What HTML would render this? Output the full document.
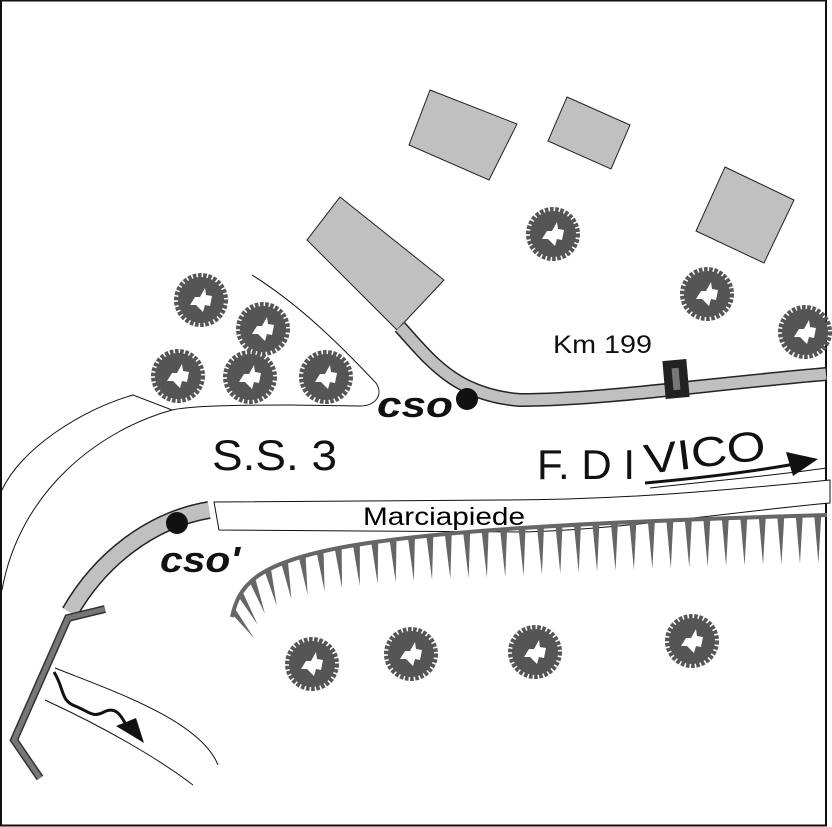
<!DOCTYPE html>
<html><head><meta charset="utf-8"><style>
html,body{margin:0;padding:0;background:#fff}
svg{display:block}
text{font-family:"Liberation Sans",sans-serif}
</style></head><body>
<svg id="s" width="832" height="827" viewBox="0 0 832 827" xmlns="http://www.w3.org/2000/svg">
<defs>
<g id="tree">
<circle r="23" fill="#555"/>
<circle r="24" fill="none" stroke="#555" stroke-width="6" stroke-dasharray="3.5 1.5"/>
<polygon points="-11,5 -6,-3 -1,-3 4,-12 5,-5 11,-4 9,6 4,5 2,12 -3,7 -5,5" fill="#fff"/>
</g>
</defs>
<rect x="1" y="0.5" width="825" height="825" fill="#fff" stroke="#111" stroke-width="2"/>

<g fill="#c0c0c0" stroke="#222" stroke-width="1">
<polygon points="430,90 517,124 489,180 409,145"/>
<polygon points="567,97 630,125 611,169 548,141"/>
<polygon points="725,167 794,200 764,263 696,231"/>
<polygon points="340,197 444,280 397,330 307,240"/>
</g>

<path d="M400,327 C430,360 455,395 520,400 C600,400 700,385 826,374" fill="none" stroke="#222" stroke-width="14"/>
<path d="M400,327 C430,360 455,395 520,400 C600,400 700,385 826,374" fill="none" stroke="#c0c0c0" stroke-width="11"/>
<rect x="-12" y="-19" width="24" height="38" fill="#222" transform="translate(676,379) rotate(-5)"/>
<rect x="-3.5" y="-11" width="7" height="22" fill="#777" transform="translate(676,379) rotate(-5)"/>

<g fill="none" stroke="#111" stroke-width="1">
<path d="M252,275 C300,305 340,345 376,383 C384,395 375,406 360,406 L290,405 C230,405 190,406 172,410 L133,395 C80,410 20,450 2,490"/>
<path d="M172,410 C100,430 20,490 2,590"/>
<path d="M55,668 C110,690 200,720 218,765"/>
<path d="M45,700 C110,730 160,760 193,785"/>
<path d="M650,488 C720,480 780,475 826,468"/>
</g>

<path d="M209,510 C150,520 100,560 70,612" fill="none" stroke="#222" stroke-width="18"/>
<path d="M209,510 C150,520 100,560 70,612" fill="none" stroke="#c0c0c0" stroke-width="15"/>
<path d="M214,502 L500,500 C620,500 730,490 830,480 L830,503 C730,512 620,530 520,532 L219,530 Z" fill="#fff" stroke="#111" stroke-width="1"/>
<text x="363" y="525" font-size="25" textLength="162" lengthAdjust="spacingAndGlyphs">Marciapiede</text>

<path d="M105,609 L68,618 L14,740 L40,778" fill="none" stroke="#333" stroke-width="8"/>
<path d="M105,609 L68,618 L14,740 L40,778" fill="none" stroke="#777" stroke-width="5"/>
<path d="M54,672 C65,690 60,700 75,706 C90,712 92,718 104,712 C114,707 120,712 127,727" fill="none" stroke="#111" stroke-width="3"/>
<polygon points="116,726 136,718 144,743" fill="#111"/>

<g id="teeth" fill="#666"></g>
<path id="base" d="M232,617 C245,555 300,530 827,515" fill="none" stroke="#666" stroke-width="4"/>

<use href="#tree" x="201" y="300"/>
<use href="#tree" x="263" y="329"/>
<use href="#tree" x="178" y="376"/>
<use href="#tree" x="250" y="377"/>
<use href="#tree" x="326" y="377"/>
<use href="#tree" x="553" y="234"/>
<use href="#tree" x="707" y="294"/>
<use href="#tree" x="805" y="332"/>
<use href="#tree" x="312" y="664"/>
<use href="#tree" x="411" y="654"/>
<use href="#tree" x="535" y="652"/>
<use href="#tree" x="692" y="641"/>

<circle cx="467" cy="399" r="11" fill="#111"/>
<text x="377" y="417" font-size="36" font-weight="bold" font-style="italic" fill="#111" textLength="76" lengthAdjust="spacingAndGlyphs">cso</text>
<circle cx="177" cy="523" r="11" fill="#111"/>
<text x="160" y="572" font-size="36" font-weight="bold" font-style="italic" fill="#111" textLength="80" lengthAdjust="spacingAndGlyphs">cso'</text>
<text x="212" y="470" font-size="43" fill="#111" textLength="125" lengthAdjust="spacingAndGlyphs">S.S. 3</text>
<text x="553" y="353" font-size="25" fill="#111" textLength="99" lengthAdjust="spacingAndGlyphs">Km 199</text>
<text x="537" y="479" font-size="42" fill="#111">F. D I</text>
<text x="646" y="474" font-size="42" fill="#111" transform="rotate(-7 646 474)" textLength="122" lengthAdjust="spacingAndGlyphs">VICO</text>
<path d="M645,483 C700,478 750,472 795,464" fill="none" stroke="#111" stroke-width="3"/>
<polygon points="786,452 818,459 793,476" fill="#111"/>
</svg>
<script>
(function(){
var p=document.getElementById('base'),g=document.getElementById('teeth');
var L=p.getTotalLength(),s='';
for(var d=6;d<L-4;d+=18.5){
 var a=p.getPointAtLength(d-3.5),b=p.getPointAtLength(d+3.5),m=p.getPointAtLength(d);
 var tx=b.x-a.x,ty=b.y-a.y,tl=Math.hypot(tx,ty);tx/=tl;ty/=tl;
 var nx=-ty,ny=tx; if(ny<0){nx=-nx;ny=-ny;}
 var dx=nx*0.5,dy=ny*0.5+0.5,dl=Math.hypot(dx,dy);dx/=dl;dy/=dl;
 var len=34+14*Math.min(1,d/300);
 s+='<polygon points="'+a.x+','+a.y+' '+b.x+','+b.y+' '+(m.x+dx*len)+','+(m.y+dy*len)+'"/>';
}
g.innerHTML=s;
})();
</script>
</body></html>
